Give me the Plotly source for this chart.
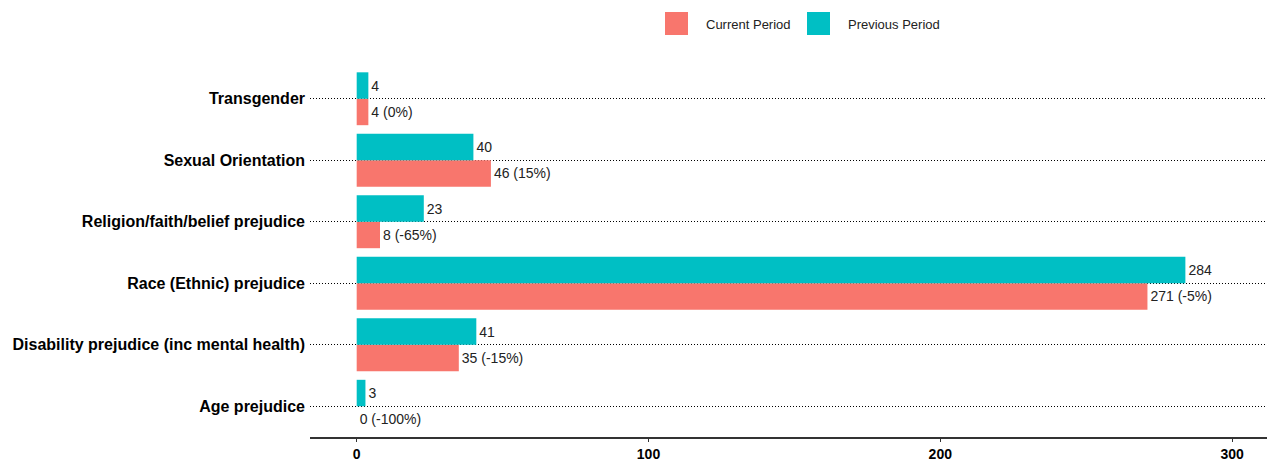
import plotly.graph_objects as go

categories = ["Age prejudice", "Disability prejudice (inc mental health)", "Race (Ethnic) prejudice",
              "Religion/faith/belief prejudice", "Sexual Orientation", "Transgender"]
current = [0, 35, 271, 8, 46, 4]
previous = [3, 41, 284, 23, 40, 4]
pct_change = ["-100%", "-15%", "-5%", "-65%", "15%", "0%"]
tick_vals = [0, 100, 200, 300]
legend_names = ["Current Period", "Previous Period"]

RED = "#F8766D"
CYAN = "#00BFC4"
FONT = "Liberation Sans, Arial"

W, H = 1275, 461
OFF = 8  # page body margin offset
L, R, T, B = 310 - OFF, 13, 68 - OFF, 32

fig = go.Figure()
fig.add_trace(go.Bar(
    y=categories, x=current, orientation="h", name=legend_names[0],
    marker=dict(color=RED, line=dict(width=0)), text=[f"{v} ({p})" for v, p in zip(current, pct_change)],
    textposition="outside", textfont=dict(size=14, color="#222", family=FONT),
    cliponaxis=False, showlegend=False,
))
fig.add_trace(go.Bar(
    y=categories, x=previous, orientation="h", name=legend_names[1],
    marker=dict(color=CYAN, line=dict(width=0)), text=[str(v) for v in previous],
    textposition="outside", textfont=dict(size=14, color="#222", family=FONT),
    cliponaxis=False, showlegend=False,
))

# manual legend (ggplot style large keys)
pw = W - L - R
ph = H - T - B
def px2x(px):
    return (px - OFF - L) / pw
def py2y(py):
    return (H - B - (py - OFF)) / ph

shapes = []
annotations = []
for name, col, x0, tx in [(legend_names[0], RED, 665, 704), (legend_names[1], CYAN, 807, 846)]:
    shapes.append(dict(type="rect", xref="paper", yref="paper",
                       x0=px2x(x0), x1=px2x(x0 + 23), y0=py2y(35), y1=py2y(12),
                       fillcolor=col, line=dict(width=0)))
    annotations.append(dict(xref="paper", yref="paper", x=px2x(tx), y=py2y(24),
                            xanchor="left", yanchor="middle", text=name, showarrow=False,
                            font=dict(size=13, color="#222", family=FONT)))

fig.update_layout(
    width=W, height=H,
    margin=dict(l=L, r=R, t=T, b=B, autoexpand=False),
    plot_bgcolor="white", paper_bgcolor="white",
    barmode="group", bargap=0.14, bargroupgap=0.0,
    font=dict(family=FONT, color="#000"),
    showlegend=False,
    shapes=shapes, annotations=annotations,
    xaxis=dict(range=[-16, 313], tickvals=tick_vals, showgrid=False, zeroline=False,
               showline=True, linecolor="#333", linewidth=2, ticks="outside", ticklen=3,
               tickcolor="#333", tickwidth=1, automargin=False,
               tickfont=dict(size=14, family=FONT, color="#000", weight="bold")),
    yaxis=dict(showgrid=True, gridcolor="#000", griddash="1px,2px", gridwidth=1, zeroline=False,
               ticks="", ticklen=0, showline=False, automargin=False, ticklabelstandoff=4,
               tickfont=dict(size=16, family=FONT, color="#000", weight="bold")),
)
fig.write_html("out.html")
